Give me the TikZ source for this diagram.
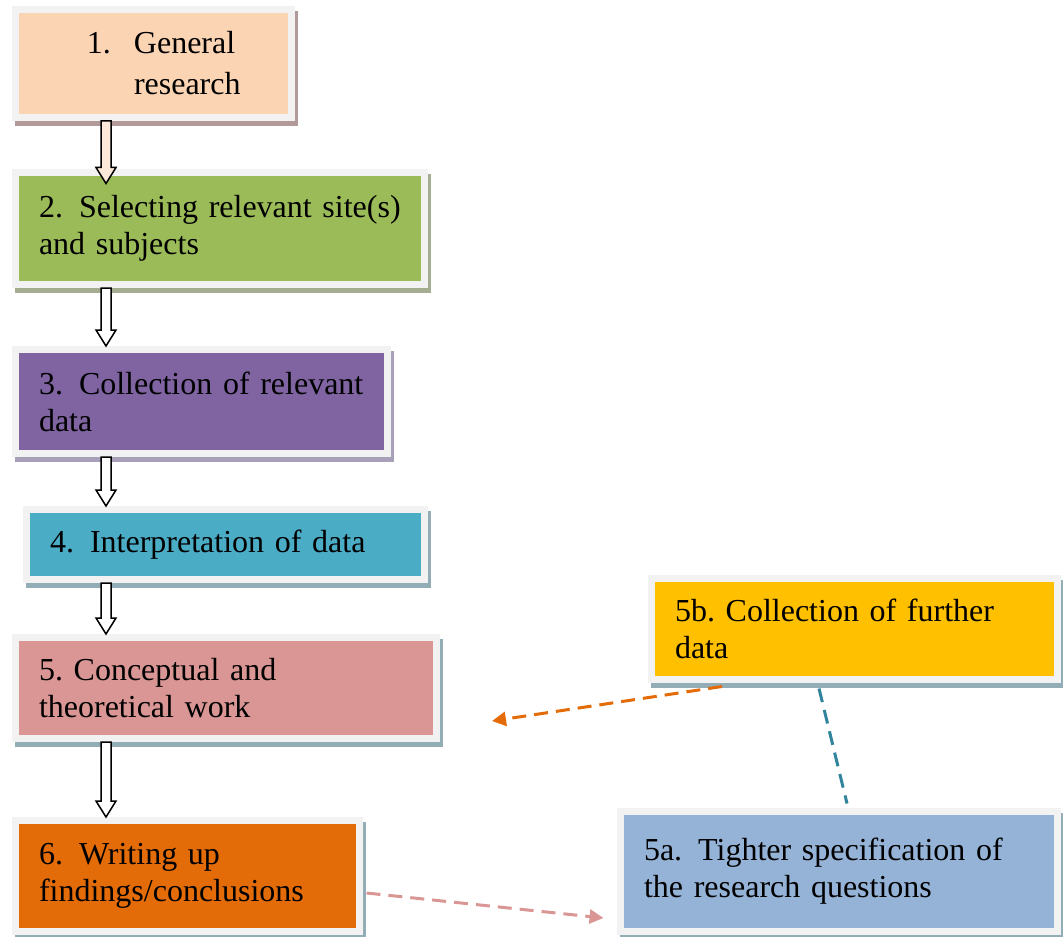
\documentclass[tikz,border=0pt]{standalone}
\usepackage{fontspec}
\setmainfont{Liberation Serif}
\usetikzlibrary{calc,shadows,arrows.meta}
\frenchspacing

\definecolor{frame}{HTML}{F2F2F2}
\definecolor{general}{HTML}{FBD4B4}
\definecolor{sites}{HTML}{9BBB59}
\definecolor{collect}{HTML}{8064A2}
\definecolor{interpret}{HTML}{4BACC6}
\definecolor{concept}{HTML}{D99694}
\definecolor{writing}{HTML}{E36C09}
\definecolor{further}{HTML}{FFC000}
\definecolor{tighter}{HTML}{95B3D7}
\definecolor{pinkshade}{HTML}{B39A9A}
\definecolor{greenshade}{HTML}{A5AD90}
\definecolor{purpleshade}{HTML}{A8A0B8}
\definecolor{blueshade}{HTML}{92ADB6}
\definecolor{peach}{HTML}{FDE9D9}
\definecolor{teal}{HTML}{31849B}

\newcommand{\blockarrow}[3][white]{%
  \draw[hollow, fill=#1] ($(#2 -| shaft)+(-5,0)$) -- ($(#3 -| shaft)+(-5,-16)$) -- ++(-5,0)
    -- (#3 -| shaft) -- ($(#3 -| shaft)+(10,-16)$) -- ++(-5,0) -- ($(#2 -| shaft)+(5,0)$) -- cycle;}
\newcommand{\numgap}{\hspace{8pt}}
\newcommand{\boxfont}{\fontsize{16}{18.5}\selectfont\spaceskip 3.4pt\relax}

\tikzset{
  stage/.style 2 args={rectangle, fill=#1, draw=frame, line width=3.5pt, inner xsep=11.75pt,
    align=left, font=\boxfont,
    drop shadow={shadow xshift=1.25pt, shadow yshift=-2.5pt, opacity=1, fill=#2, draw=#2, line width=3.5pt}},
  hollow/.style={draw=black, line width=0.75pt, line join=miter},
  feedback/.style={line width=1.5pt, dash pattern=on 7pt off 4pt},
}

\begin{document}
\begin{tikzpicture}[x=0.5pt,y=-0.5pt]
  \useasboundingbox (0,0) rectangle (1063,936);

  \node[stage={general}{pinkshade}, text width=114.5pt, minimum height=54pt, font=\fontsize{16}{20.5}\selectfont] (b1) at (153.5,63.5)
    {\hspace*{24pt}\makebox[23.5pt][l]{1.}General\\ \hspace*{47.5pt}research};
  \node[stage={sites}{greenshade}, text width=181pt, minimum height=56pt] (b2) at (220,228.5)
    {\mbox{2.\numgap Selecting relevant site(s)}\\ and subjects};
  \node[stage={collect}{purpleshade}, text width=162.5pt, minimum height=52pt] (b3) at (201.5,401.5)
    {\mbox{3.\numgap Collection of relevant}\\ data};
  \node[stage={interpret}{blueshade}, text width=175.5pt, minimum height=35pt] (b4) at (225.5,544.5)
    {4.\numgap Interpretation of data};
  \node[stage={concept}{blueshade}, text width=187pt, minimum height=50.5pt] (b5) at (226,688)
    {5. Conceptual and\\ theoretical work};
  \node[stage={writing}{blueshade}, text width=148.5pt, minimum height=55.5pt] (b6) at (187.5,876)
    {6.\numgap Writing up\\ findings/conclusions};
  \node[stage={further}{blueshade}, text width=179.5pt, minimum height=50.5pt] (b5b) at (854.5,629)
    {5b. Collection of further\\ data};
  \node[stage={tighter}{blueshade}, text width=195pt, minimum height=60pt] (b5a) at (839,871.5)
    {\mbox{5a.\numgap Tighter specification of}\\ the research questions\\[-6pt]};

  \coordinate (shaft) at (106,0);
  \coordinate (tip1) at ([yshift=-7.25pt]b2.north);
  \blockarrow[peach]{b1.south}{tip1}
  \blockarrow{b2.south}{b3.north}
  \blockarrow{b3.south}{b4.north}
  \blockarrow{b4.south}{b5.north}
  \blockarrow{b5.south}{b6.north}

  \coordinate (back) at (492,721);
  \draw[feedback, writing, -{Triangle[length=7pt,width=7pt]}] ([xshift=-66.25pt,yshift=-1.75pt]b5b.south) -- (back);
  \draw[feedback, teal] ([xshift=-17.75pt,yshift=-2.75pt]b5b.south) -- ([xshift=4pt,yshift=2.25pt]b5a.north);
  \draw[feedback, concept, -{Triangle[length=7pt,width=7pt]}] ([xshift=1.75pt,yshift=-8.5pt]b6.east) -- ([xshift=-6.75pt,yshift=-23.25pt]b5a.west);
\end{tikzpicture}
\end{document}
